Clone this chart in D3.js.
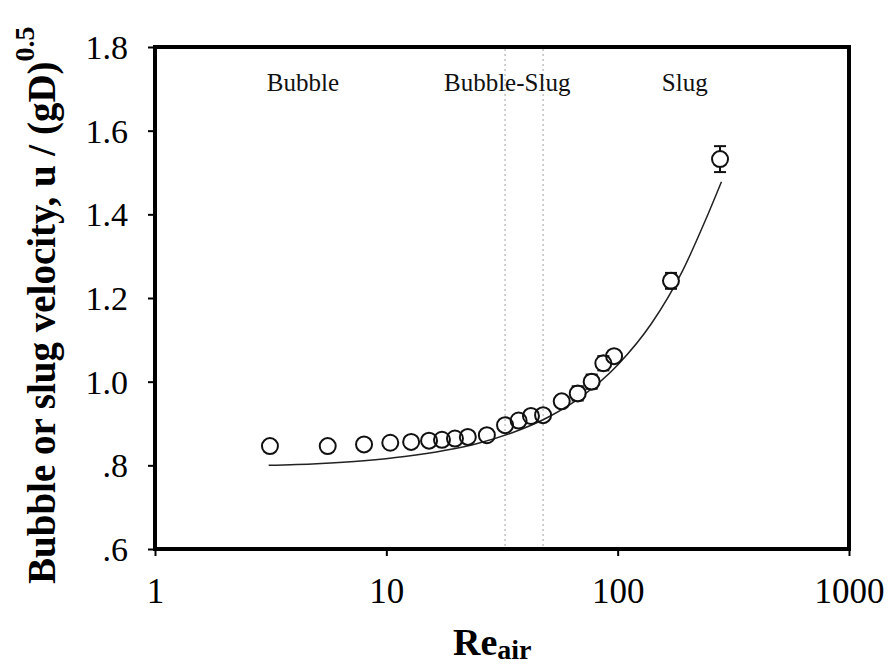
<!DOCTYPE html>
<html><head><meta charset="utf-8">
<script src="https://cdn.jsdelivr.net/npm/d3@7"></script>
<style>
html,body{margin:0;padding:0;background:#fff;}
svg text, svg tspan{font-family:"Liberation Serif","Times New Roman",serif;}
</style>
</head><body>
<svg id="chart" width="889" height="665"></svg>
<script>
// Data
const reAir = [3.14, 5.58, 8.01, 10.4, 12.8, 15.3, 17.4, 19.8, 22.5, 27.2, 32.6, 37.3, 42.2, 47.6, 57.3, 67.2, 77.2, 86.7, 96.5, 170, 277];
const velocity = [0.846, 0.846, 0.850, 0.854, 0.856, 0.859, 0.861, 0.864, 0.868, 0.872, 0.896, 0.907, 0.918, 0.920, 0.953, 0.972, 1.000, 1.044, 1.061, 1.241, 1.532];
const velErr = [0, 0, 0, 0, 0, 0, 0, 0, 0, 0, 0, 0, 0, 0, 0, 0.017, 0.017, 0.017, 0, 0.019, 0.031];
const fitRe = [3.1, 5, 8, 12, 18, 25, 35, 50, 70, 100, 140, 190, 240, 281];
const fitU = [0.800, 0.804, 0.811, 0.821, 0.836, 0.853, 0.878, 0.915, 0.965, 1.040, 1.139, 1.263, 1.387, 1.478];
const regimeBounds = [32.6, 47.6];
const regimeLabels = ["Bubble", "Bubble-Slug", "Slug"];
const regimeLabelRe = [4.36, 33.3, 195];
const xTicks = [1, 10, 100, 1000];
const yTicks = [0.6, 0.8, 1.0, 1.2, 1.4, 1.6, 1.8];
const yTickLabels = [".6", ".8", "1.0", "1.2", "1.4", "1.6", "1.8"];

const FONT = '"Liberation Serif","Times New Roman",serif';
const svg = d3.select("#chart");
const x = d3.scaleLog().domain([1, 1000]).range([155, 849]);
const y = d3.scaleLinear().domain([0.6, 1.8]).range([549, 47]);

// dotted regime boundaries
svg.selectAll("line.bound").data(regimeBounds).join("line")
  .attr("x1", d => x(d)).attr("x2", d => x(d))
  .attr("y1", 49).attr("y2", 547)
  .attr("stroke", "#b0b0b0").attr("stroke-width", 1.2)
  .attr("stroke-dasharray", "2,3");

// regime labels
svg.selectAll("text.reg").data(regimeLabels).join("text")
  .attr("x", (d, i) => x(regimeLabelRe[i]))
  .attr("y", 91)
  .attr("text-anchor", "middle")
  .style("font-family", FONT)
  .attr("font-size", 25).attr("fill", "#111")
  .text(d => d);

// Frame
svg.append("rect").attr("x", 155).attr("y", 47).attr("width", 694).attr("height", 502)
  .attr("fill", "none").attr("stroke", "#000").attr("stroke-width", 4);

// axes
const xAxis = d3.axisBottom(x).tickValues(xTicks).tickFormat(d3.format("d")).tickSize(7).tickPadding(22);
const gx = svg.append("g").attr("transform", "translate(0,549)").call(xAxis);
gx.attr("font-family", null);
gx.select(".domain").remove();
gx.selectAll(".tick line").attr("stroke", "#000").attr("stroke-width", 2);
gx.selectAll("text").style("font-family", FONT).attr("font-size", 35).attr("fill", "#000").attr("dy", "0.72em");

const yAxis = d3.axisLeft(y).tickValues(yTicks).tickFormat((d, i) => yTickLabels[i]).tickSize(7).tickPadding(20);
const gy = svg.append("g").attr("transform", "translate(155,0)").call(yAxis);
gy.attr("font-family", null);
gy.select(".domain").remove();
gy.selectAll(".tick line").attr("stroke", "#000").attr("stroke-width", 2);
gy.selectAll("text").style("font-family", FONT).attr("font-size", 34).attr("fill", "#000").attr("dy", "0.34em");

// fitted curve
const fit = fitRe.map((d, i) => [d, fitU[i]]);
svg.append("path").datum(fit)
  .attr("d", d3.line().x(d => x(d[0])).y(d => y(d[1])).curve(d3.curveMonotoneX))
  .attr("fill", "none").attr("stroke", "#222").attr("stroke-width", 1.5);

// data
const pts = reAir.map((d, i) => ({re: d, u: velocity[i], e: velErr[i]}));
const eb = svg.append("g").attr("stroke", "#111").attr("stroke-width", 2);
pts.filter(p => p.e > 0).forEach(p => {
  const cx = x(p.re), y1 = y(p.u + p.e), y2 = y(p.u - p.e);
  eb.append("line").attr("x1", cx).attr("x2", cx).attr("y1", y1).attr("y2", y2);
  eb.append("line").attr("x1", cx - 6).attr("x2", cx + 6).attr("y1", y1).attr("y2", y1);
  eb.append("line").attr("x1", cx - 6).attr("x2", cx + 6).attr("y1", y2).attr("y2", y2);
});
svg.selectAll("circle.bg").data(pts.filter(p => p.e > 0)).join("circle")
  .attr("cx", d => x(d.re)).attr("cy", d => y(d.u)).attr("r", 7)
  .attr("fill", "#fff");
svg.selectAll("circle.pt").data(pts).join("circle")
  .attr("cx", d => x(d.re)).attr("cy", d => y(d.u)).attr("r", 8)
  .attr("fill", "none").attr("stroke", "#111").attr("stroke-width", 2);

// x axis title
const xt = svg.append("text").attr("x", 453).attr("y", 655)
  .style("font-family", FONT).attr("font-weight", "bold").attr("fill", "#000");
xt.append("tspan").attr("font-size", 38).text("Re");
xt.append("tspan").attr("font-size", 28).attr("dy", 4).text("air");

// y axis title
const yt = svg.append("text").attr("transform", "translate(55,584) rotate(-90)")
  .style("font-family", FONT).attr("font-weight", "bold").attr("fill", "#000");
yt.append("tspan").attr("font-size", 39).text("Bubble or slug velocity, u / (gD)");
yt.append("tspan").attr("font-size", 28).attr("dy", -21).text("0.5");
</script>
</body></html>
